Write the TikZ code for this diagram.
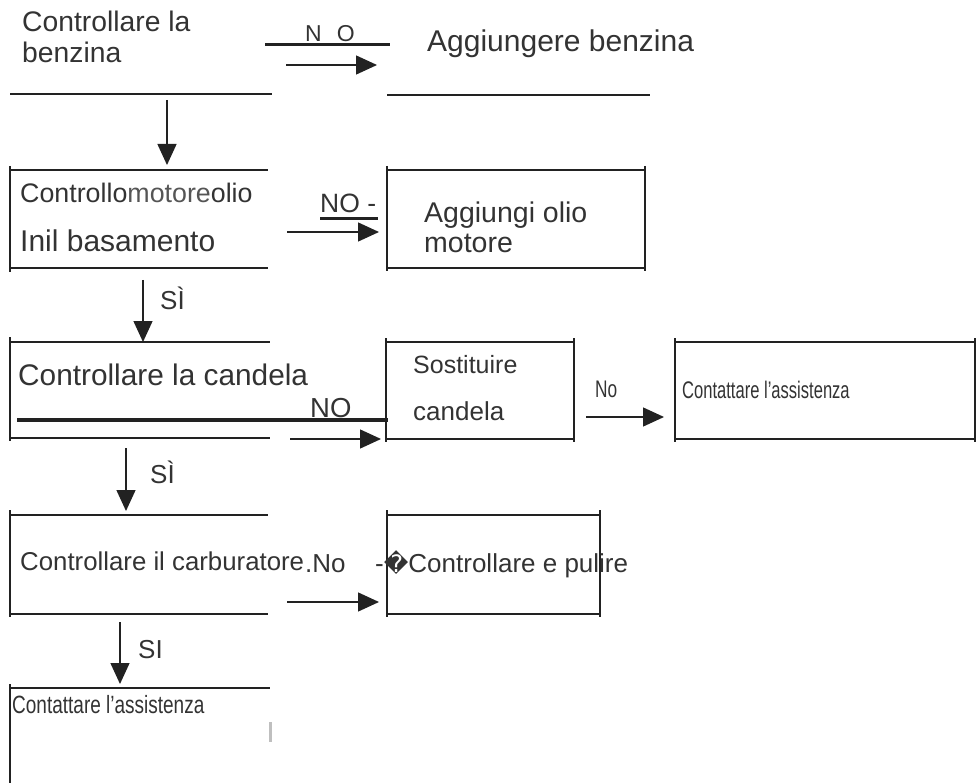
\documentclass[tikz,border=0pt]{standalone}
\usepackage{fontspec}
\setmainfont{Liberation Sans}
\newfontfamily\dejavu{DejaVu Sans}
\usetikzlibrary{arrows.meta}
\definecolor{ink}{HTML}{222222}
\definecolor{txtc}{HTML}{333333}
\definecolor{lightt}{HTML}{555555}
\newcommand{\fs}[1]{\fontsize{#1}{#1}\selectfont}
\newcommand{\narrowtxt}[3]{\scalebox{#2}[1]{\fs{#1}#3}}
\tikzset{
  txt/.style={anchor=base west, inner sep=0pt, text=txtc},
  hthick/.style={draw=ink, line width=2.2pt},
  hthin/.style={draw=ink, line width=1.4pt},
  vline/.style={draw=ink, line width=1.3pt},
  arr/.style={draw=ink, line width=1.4pt, -{Triangle[length=21pt,width=19pt]}},
  heavy/.style={draw=ink, line width=4pt},
}
\begin{document}
\begin{tikzpicture}[x=1pt,y=-1pt]
\useasboundingbox (0,0) rectangle (976,783);
% ---------- row 1
\node[txt, font=\fs{28.3}] (b1a) at (22,32) {Controllare la};
\node[txt, font=\fs{28.3}] (b1b) at (22,63) {benzina};
\draw[hthin] (10,94) -- (272,94);
\draw[draw=ink, line width=3pt] (265,45) -- (390,45);
\node[txt, font=\fs{23}] (no1) at (305,42) {N\hspace{15pt}O};
\coordinate (a1s) at (286,65); \coordinate (a1e) at (377,65);
\draw[arr] (a1s) -- (a1e);
\node[txt, font=\fs{30}] (add1) at (427,52) {Aggiungere benzina};
\draw[hthin] (387,95) -- (650,95);
\coordinate (d1s) at (167,100); \coordinate (d1e) at (167,165);
\draw[arr] (d1s) -- (d1e);
% ---------- row 2
\draw[hthick] (10,170) -- (268,170);
\draw[hthick] (10,268) -- (268,268);
\draw[vline] (10,166) -- (10,272);
\node[txt, font=\fs{26.8}] (b2a) at (20,203) {Controllo\textcolor{lightt}{motore}olio};
\node[txt, font=\fs{30}] (b2b) at (20,252) {Inil basamento};
\node[txt, font=\fs{26.5}] (no2) at (320,213) {NO -};
\draw[draw=ink, line width=2.5pt] (320,218.5) -- (378,218.5);
\coordinate (a2s) at (287,232); \coordinate (a2e) at (379,232);
\draw[arr] (a2s) -- (a2e);
\draw[hthick] (387,170) -- (645,170);
\draw[hthick] (387,268) -- (645,268);
\draw[vline] (387,166) -- (387,271);
\draw[hthick] (645,166) -- (645,271);
\node[txt, font=\fs{28.5}] (o1) at (424,223) {Aggiungi olio};
\node[txt, font=\fs{28.5}] (o2) at (424,253) {motore};
\coordinate (d2s) at (143,280); \coordinate (d2e) at (143,342);
\draw[arr] (d2s) -- (d2e);
\node[txt, font=\fs{26}] (si1) at (160,309) {SÌ};
% ---------- row 3
\draw[hthin] (10,342) -- (270,342);
\draw[hthin] (10,438) -- (270,438);
\draw[vline] (10,337) -- (10,441);
\node[txt, font=\fs{29.8}] (b3) at (18,385) {Controllare la candela};
\draw[heavy] (17,420) -- (388,420);
\node[txt, font=\fs{27.5}] (no3) at (310,417) {NO};
\coordinate (a3s) at (290,439); \coordinate (a3e) at (381,439);
\draw[arr] (a3s) -- (a3e);
\draw[hthin] (386,342) -- (574,342);
\draw[hthin] (386,439) -- (574,439);
\draw[vline] (386,338) -- (386,442);
\draw[vline] (574,338) -- (574,442);
\node[txt, font=\fs{25}] (s1) at (413,373) {Sostituire};
\node[txt, font=\fs{26}] (s2) at (413,420) {candela};
\node[txt] (no4) at (595,397) {\narrowtxt{24}{0.72}{No}};
\coordinate (a4s) at (586,417); \coordinate (a4e) at (664,417);
\draw[arr] (a4s) -- (a4e);
\draw[hthin] (675,342) -- (976,342);
\draw[hthin] (675,439) -- (976,439);
\draw[vline] (675,338) -- (675,442);
\draw[vline] (975,338) -- (975,442);
\node[txt] (c1) at (682,398) {\narrowtxt{24}{0.69}{Contattare l’assistenza}};
\coordinate (d3s) at (126,448); \coordinate (d3e) at (126,511);
\draw[arr] (d3s) -- (d3e);
\node[txt, font=\fs{26}] (si2) at (150,483) {SÌ};
% ---------- row 4
\draw[hthick] (10,515) -- (268,515);
\draw[hthick] (10,614) -- (268,614);
\draw[vline] (10,510) -- (10,617);
\node[txt, font=\fs{25.8}] (b4) at (20,570) {Controllare il carburatore};
\node[txt, font=\fs{26}] (no5) at (305,572) {.No};
\draw[hthick] (387,515) -- (600,515);
\draw[hthick] (387,614) -- (600,614);
\draw[vline] (387,510) -- (387,617);
\draw[vline] (600,510) -- (600,617);
\node[txt, font=\fs{26}] (cp) at (375,572) {-{\dejavu\fs{24}�}Controllare e pulire};
\coordinate (a5s) at (287,602); \coordinate (a5e) at (379,602);
\draw[arr] (a5s) -- (a5e);
\coordinate (d4s) at (120,622); \coordinate (d4e) at (120,684);
\draw[arr] (d4s) -- (d4e);
\node[txt, font=\fs{26}] (si3) at (138,658) {SI};
% ---------- row 5
\draw[hthin] (10,688) -- (270,688);
\draw[vline] (10,684) -- (10,783);
\node[txt] (c2) at (12,713) {\narrowtxt{25}{0.76}{Contattare l’assistenza}};
\draw[draw=black!25, line width=3pt] (270,722) -- (270,742);
\end{tikzpicture}
\end{document}
